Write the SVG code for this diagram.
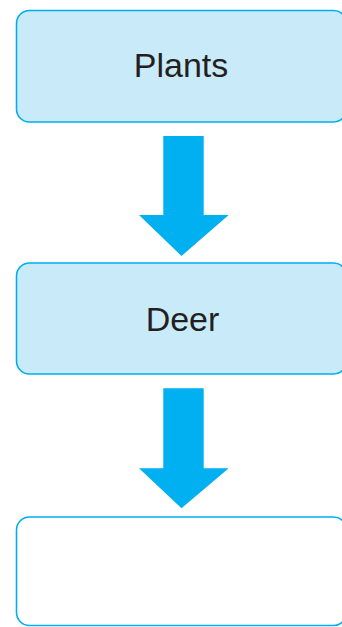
<svg xmlns="http://www.w3.org/2000/svg" width="342" height="627" viewBox="0 0 342 627">
<style>
.box{fill:#c8eaf9;stroke:#00aeef;stroke-width:1.6}
.empty{fill:#ffffff;stroke:#00aeef;stroke-width:1.6}
.lbl{font-family:"Liberation Sans",Arial,sans-serif;font-size:34px;fill:#231f20;text-anchor:middle}
.arr{fill:#00b0f0}
</style>
<rect width="342" height="627" fill="#ffffff"/>
<g id="connectors">
<polygon class="arr" points="163.3,136 203.7,136 203.7,215 228.7,215 181.5,256 139,215 163.3,215"/>
<polygon class="arr" points="163.3,388.3 203.7,388.3 203.7,468.3 228.7,468.3 181.5,508.3 139,468.3 163.3,468.3"/>
</g>
<g id="plants">
<rect class="box" x="16.5" y="10.5" width="330" height="111.5" rx="13"/>
<text class="lbl" x="181" y="77">Plants</text>
</g>
<g id="deer">
<rect class="box" x="16.5" y="263" width="330" height="111" rx="13"/>
<text class="lbl" x="182.5" y="330.5">Deer</text>
</g>
<g id="blank">
<rect class="empty" x="16.5" y="517" width="330" height="108.5" rx="13"/>
</g>
</svg>
